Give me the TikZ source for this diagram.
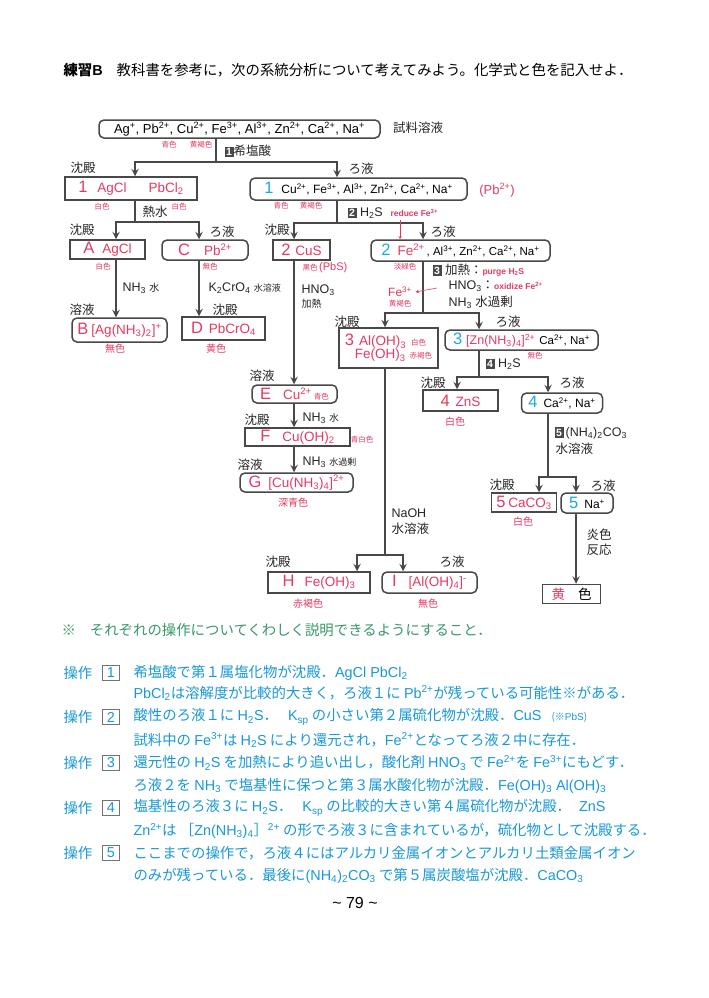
\documentclass[tikz,border=0pt]{standalone}
\usepackage{fontspec}
\setmainfont{Noto Sans CJK JP}
\newfontfamily\jp{Noto Sans CJK JP}
\newfontfamily\lat{Liberation Sans}
\usepackage{tikz}
\usetikzlibrary{arrows}

\definecolor{ans}{RGB}{228,58,98}
\definecolor{num}{RGB}{28,168,228}
\definecolor{opblue}{RGB}{24,152,216}
\definecolor{note}{RGB}{56,152,104}
\definecolor{ink}{RGB}{72,72,72}

\newcommand\lo[1]{\textsubscript{#1}}
\newcommand\hi[1]{\textsuperscript{#1}}
\newcommand\la[1]{{\lat #1}}
\newcommand\ja[1]{{\jp #1}}
\newcommand\opn[1]{{\setlength\fboxsep{1.6pt}\colorbox{ink}{\textcolor{white}{\lat\bfseries\fontsize{10.5}{10.5}\selectfont #1}}}}
\newcommand\opbox[1]{{\setlength\fboxsep{2pt}\setlength\fboxrule{0.9pt}\fcolorbox{black!55}{white}{\lat\,#1\,}}}
\newcommand\cw[1]{{\jp\fontsize{7.5}{8}\selectfont\textcolor{ans}{#1}}}
\newcommand\bign[2]{{\color{#1}\fontsize{16.5}{16.5}\selectfont #2}}
\newcommand\blk[1]{{\color{black}\fontsize{12}{12}\selectfont #1}}

\begin{document}
\begin{tikzpicture}[
    x = 1pt, y = -1pt, % one unit per pixel, y runs down
    > = stealth, % arrow head style
    flow/.style = {draw=ink, line width=2.2pt}, % flow lines
    ppt/.style = {draw=ink, line width=1.5pt, inner sep=0pt, text=ans,
                  font=\lat\fontsize{13.5}{14}\selectfont}, % precipitate boxes
    sol/.style = {ppt, rounded corners=5pt}, % solution boxes
    lbl/.style = {font=\jp\fontsize{12.5}{13}\selectfont, text=black!85}, % 沈殿 / ろ液
    col/.style = {font=\jp\fontsize{7.5}{8}\selectfont, text=ans}, % small colour words
    bcol/.style = {font=\jp\fontsize{10}{11}\selectfont, text=ans}, % colour words
    reag/.style = {anchor=west, font=\lat\fontsize{12.5}{13}\selectfont, text=black!85}, % reagents
    opline/.style = {anchor=west, font=\jp\fontsize{14.4}{15}\selectfont, text=opblue} % notes
]
\fill[white] (0,0) rectangle (709,998);
\useasboundingbox (0,0) rectangle (709,998);

\node[anchor=west, font=\jp\fontsize{14.4}{15}\selectfont] (title) at (60,70)
    {{\bfseries 練習\la{B}}\hspace{14pt}教科書を参考に，次の系統分析について考えてみよう。化学式と色を記入せよ．};

% split points
\coordinate (s1) at (216,162);
\coordinate (s2) at (135,222);
\coordinate (s3) at (337,223);
\coordinate (s4) at (423,313);
\coordinate (s5) at (479,377);
\coordinate (s6) at (548,477);
\coordinate (s7) at (385,555);
% arrow columns
\coordinate (xa) at (116,0);
\coordinate (xc) at (199,0);
\coordinate (xcu) at (294,0);
\coordinate (xzn) at (457,0);
\coordinate (xca) at (539,0);
\coordinate (xna) at (576,0);
\coordinate (xh) at (357,0);
\coordinate (xi) at (403,0);
\coordinate (xrd) at (400,0);

% boxes
\node[sol, text=black, font=\lat\fontsize{13}{13}\selectfont, minimum width=281pt, minimum height=18pt] (top) at (239.5,129)
    {Ag\hi{+}, Pb\hi{2+}, Cu\hi{2+}, Fe\hi{3+}, Al\hi{3+}, Zn\hi{2+}, Ca\hi{2+}, Na\hi{+}};
\node[ppt, minimum width=132pt, minimum height=23pt] (p1) at (131,188.5)
    {\bign{ans}{1}\hspace{10pt}AgCl\hspace{22pt}PbCl\lo{2}};
\node[sol, minimum width=217pt, minimum height=22pt] (f1) at (358.5,189)
    {\bign{num}{1}\hspace{8pt}\blk{Cu\hi{2+}, Fe\hi{3+}, Al\hi{3+}, Zn\hi{2+}, Ca\hi{2+}, Na\hi{+}}\hspace{4pt}};
\node[ppt, minimum width=75pt, minimum height=19pt] (A) at (107.5,249.5) {\bign{ans}{A}\hspace{8pt}AgCl};
\node[sol, minimum width=86pt, minimum height=20pt] (C) at (205,250) {\bign{ans}{C}\hspace{14pt}Pb\hi{2+}\hspace{16pt}};
\node[ppt, minimum width=57pt, minimum height=20pt] (cus) at (301.5,250) {\bign{ans}{2}\hspace{5pt}CuS};
\node[sol, minimum width=179pt, minimum height=21pt] (f2) at (460.5,250.5)
    {\bign{num}{2}\hspace{7pt}Fe\hi{2+}\hspace{2pt}{\color{black}\fontsize{11.5}{12}\selectfont, Al\hi{3+}, Zn\hi{2+}, Ca\hi{2+}, Na\hi{+}}};
\node[sol, minimum width=95pt, minimum height=24pt] (B) at (119.5,330) {\bign{ans}{B}\hspace{3pt}[Ag(NH\lo{3})\lo{2}]\hi{+}};
\node[ppt, minimum width=83pt, minimum height=23pt] (D) at (223.5,328.5) {\bign{ans}{D}\hspace{6pt}PbCrO\lo{4}};
\node[sol, minimum width=85pt, minimum height=18pt] (E) at (294.5,394) {\bign{ans}{E}\hspace{12pt}Cu\hi{2+}\,\cw{青色}\hspace{6pt}};
\node[ppt, minimum width=105pt, minimum height=18pt] (F) at (297.5,437) {\bign{ans}{F}\hspace{12pt}Cu(OH)\lo{2}\hspace{14pt}};
\node[sol, minimum width=113pt, minimum height=19pt] (G) at (296.5,482.5) {\bign{ans}{G}\hspace{7pt}[Cu(NH\lo{3})\lo{4}]\hi{2+}\hspace{4pt}};
\node[ppt, minimum width=99pt, minimum height=40pt, align=left] (p3) at (388.5,348)
    {\bign{ans}{3}\hspace{5pt}Al(OH)\lo{3}\hspace{5pt}\cw{白色}\\[-1pt]\hspace{10pt}Fe(OH)\lo{3}\hspace{4pt}\cw{赤褐色}};
\node[sol, minimum width=153pt, minimum height=20pt, font=\lat\fontsize{12.5}{13}\selectfont] (f3) at (521.5,340)
    {\bign{num}{3}\hspace{4pt}[Zn(NH\lo{3})\lo{4}]\hi{2+}\hspace{4pt}{\color{black}\fontsize{11.5}{12}\selectfont Ca\hi{2+}, Na\hi{+}}};
\node[ppt, minimum width=75pt, minimum height=21pt] (zns) at (460.5,400.5) {\bign{ans}{4}\hspace{6pt}ZnS\hspace{20pt}};
\node[sol, minimum width=81pt, minimum height=20pt] (f4) at (562,403) {\bign{num}{4}\hspace{6pt}\blk{Ca\hi{2+}, Na\hi{+}}};
\node[ppt, minimum width=65pt, minimum height=19pt] (ca) at (524,502.5) {\bign{ans}{5}\hspace{3pt}CaCO\lo{3}};
\node[sol, minimum width=52pt, minimum height=20pt] (na) at (587,503) {\bign{num}{5}\hspace{6pt}\blk{Na\hi{+}}\hspace{6pt}};
\node[ppt, minimum width=58pt, minimum height=19pt, font=\jp\fontsize{13.5}{14}\selectfont] (yel) at (571.5,594)
    {黄\hspace{13pt}\textcolor{black}{色}};
\node[ppt, minimum width=102pt, minimum height=21pt] (H) at (319,582.5) {\bign{ans}{H}\hspace{10pt}Fe(OH)\lo{3}\hspace{22pt}};
\node[sol, minimum width=95pt, minimum height=21pt] (I) at (429.5,582.5) {\bign{ans}{I}\hspace{12pt}[Al(OH)\lo{4}]\hi{-}};

% labels: 沈殿 / ろ液 / 溶液
\node[lbl] at (83,168) {沈殿};
\node[lbl] at (361,169) {ろ液};
\node[lbl] at (82,230) {沈殿};
\node[lbl] at (222,232) {ろ液};
\node[lbl] at (277,230) {沈殿};
\node[lbl] at (443,232) {ろ液};
\node[lbl] at (82,310) {溶液};
\node[lbl] at (225,310) {沈殿};
\node[lbl] at (347,322) {沈殿};
\node[lbl] at (508,322) {ろ液};
\node[lbl] at (262,376) {溶液};
\node[lbl] at (433,383) {沈殿};
\node[lbl] at (572,383) {ろ液};
\node[lbl] at (257,420) {沈殿};
\node[lbl] at (250,465) {溶液};
\node[lbl] at (502,485) {沈殿};
\node[lbl] at (603,486) {ろ液};
\node[lbl] at (278,562) {沈殿};
\node[lbl] at (452,562) {ろ液};
\node[lbl] at (418,128) {試料溶液};

% colours
\node[col] at (169,145) {青色};
\node[col] at (201,145) {黄褐色};
\node[col] at (102,207) {白色};
\node[col] at (179,207) {白色};
\node[col] at (281,206) {青色};
\node[col] at (311,206) {黄褐色};
\node[col] at (103,267) {白色};
\node[col] at (210,267) {無色};
\node[anchor=west, text=ans] at (299,268) {\cw{黒色}\,{\lat\fontsize{11}{12}\selectfont (PbS)}};
\node[col] at (405,267) {淡緑色};
\node[col] at (400,304) {黄褐色};
\node[col] at (535,356) {無色};
\node[col] at (362,440) {青白色};
\node[bcol] at (115,349) {無色};
\node[bcol] at (216,349) {黄色};
\node[bcol] at (293,503) {深青色};
\node[bcol] at (455,422) {白色};
\node[bcol] at (523,522) {白色};
\node[bcol] at (308,604) {赤褐色};
\node[bcol] at (428,604) {無色};
\node[text=ans, font=\lat\fontsize{13}{14}\selectfont] at (497,190) {(Pb\hi{2+})};

% reagents
\node[reag] at (221,151) {\opn{1}\ja{希塩酸}};
\node[lbl, anchor=west] at (139,212) {熱水};
\node[reag] at (344,213) {\opn{2}\ H\lo{2}S};
\node[anchor=west, text=ans, font=\lat\bfseries\fontsize{8.5}{9}\selectfont] (rdc) at (387,213) {reduce Fe\hi{3+}};
\node[reag] at (119,288) {NH\lo{3} {\jp\fontsize{10}{10}\selectfont 水}};
\node[reag] at (205,288) {K\lo{2}CrO\lo{4} {\jp\fontsize{9}{10}\selectfont 水溶液}};
\node[reag] at (298,290) {HNO\lo{3}};
\node[reag, font=\jp\fontsize{10}{11}\selectfont] at (298,304) {加熱};
\node[reag] at (429,270) {\opn{3}\ \ja{加熱：}{\color{ans}\bfseries\fontsize{8.5}{9}\selectfont purge H\lo{2}S}};
\node[reag] at (445,286) {HNO\lo{3}\ja{：}{\color{ans}\bfseries\fontsize{8.5}{9}\selectfont oxidize Fe\hi{2+}}};
\node[reag] at (445,302) {NH\lo{3} \ja{水過剰}};
\node[text=ans, font=\lat\fontsize{12}{13}\selectfont] (fe3) at (400,292) {Fe\hi{3+}};
\node[reag] at (482,364) {\opn{4}\ H\lo{2}S};
\node[reag] at (299,418) {NH\lo{3} {\jp\fontsize{9.5}{10}\selectfont 水}};
\node[reag] at (299,462) {NH\lo{3} {\jp\fontsize{9}{10}\selectfont 水過剰}};
\node[reag] at (551,433) {\opn{5}\,(NH\lo{4})\lo{2}CO\lo{3}};
\node[reag, font=\jp\fontsize{12.5}{13}\selectfont] at (552,449) {水溶液};
\node[reag] at (388,513) {NaOH};
\node[reag, font=\jp\fontsize{12.5}{13}\selectfont] at (388,529) {水溶液};
\node[reag, font=\jp\fontsize{12.5}{13}\selectfont] at (583,535) {炎色};
\node[reag, font=\jp\fontsize{12.5}{13}\selectfont] at (583,550) {反応};

% connectors
\draw[flow] (top.south -| s1) -- (s1);
\draw[flow,->] (s1) -| (p1.north -| s2);
\draw[flow,->] (s1) -| (f1.north -| s3);
\draw[flow] (p1.south -| s2) -- (s2);
\draw[flow,->] (s2) -| (A.north -| xa);
\draw[flow,->] (s2) -| (C.north -| xc);
\draw[flow] (f1.south -| s3) -- (s3);
\draw[flow,->] (s3) -| (cus.north -| xcu);
\draw[flow,->] (s3) -| (f2.north -| s4);
\draw[flow,->] (A.south -| xa) -- (B.north -| xa);
\draw[flow,->] (C.south -| xc) -- (D.north -| xc);
\draw[flow,->] (cus.south -| xcu) -- (E.north -| xcu);
\draw[flow,->] (E.south -| xcu) -- (F.north -| xcu);
\draw[flow,->] (F.south -| xcu) -- (G.north -| xcu);
\draw[flow] (f2.south -| s4) -- (s4);
\draw[flow,->] (s4) -| (p3.north -| s7);
\draw[flow,->] (s4) -| (f3.north -| s5);
\draw[flow] (f3.south -| s5) -- (s5);
\draw[flow,->] (s5) -| (zns.north -| xzn);
\draw[flow,->] (s5) -| (f4.north -| s6);
\draw[flow] (f4.south -| s6) -- (s6);
\draw[flow,->] (s6) -| (ca.north -| xca);
\draw[flow,->] (s6) -| (na.north -| xna);
\draw[flow,->] (na.south -| xna) -- (yel.north -| xna);
\draw[flow] (p3.south -| s7) -- (s7);
\draw[flow,->] (s7) -| (H.north -| xh);
\draw[flow,->] (s7) -| (I.north -| xi);
\draw[ans, line width=0.5pt, ->] (rdc.south -| xrd) -- (f2.north -| xrd);
\coordinate (fesrc) at (437,288);
\draw[ans, line width=0.6pt, ->] (fesrc) -- (fe3.east);

% notes
\node[opline, text=note] (nt) at (58,630) {※\hspace{14pt}それぞれの操作についてくわしく説明できるようにすること．};
\node[opline] (k1) at (60,673) {操作};
\node[opline] at (98,673) {\opbox{1}};
\node[opline] (t1) at (130,673) {希塩酸で第１属塩化物が沈殿．\la{AgCl PbCl\lo{2}}};
\node[opline] (t1b) at (130,693) {\la{PbCl\lo{2}}は溶解度が比較的大きく，ろ液１に \la{Pb\hi{2+}}が残っている可能性※がある．};
\node[opline] (k2) at (60,717) {操作};
\node[opline] at (98,717) {\opbox{2}};
\node[opline] (t2) at (130,717) {酸性のろ液１に \la{H\lo{2}S}．\hspace{10pt}\la{K\lo{sp}} の小さい第２属硫化物が沈殿．\la{CuS}\hspace{10pt}{\fontsize{10}{10}\selectfont (※\la{PbS})}};
\node[opline] (t2b) at (130,740) {試料中の \la{Fe\hi{3+}}は \la{H\lo{2}S} により還元され，\la{Fe\hi{2+}}となってろ液２中に存在．};
\node[opline] (k3) at (60,763) {操作};
\node[opline] at (98,763) {\opbox{3}};
\node[opline] (t3) at (130,763) {還元性の \la{H\lo{2}S} を加熱により追い出し，酸化剤 \la{HNO\lo{3}} で \la{Fe\hi{2+}}を \la{Fe\hi{3+}}にもどす．};
\node[opline] (t3b) at (130,786) {ろ液２を \la{NH\lo{3}} で塩基性に保つと第３属水酸化物が沈殿．\la{Fe(OH)\lo{3} Al(OH)\lo{3}}};
\node[opline] (k4) at (60,808) {操作};
\node[opline] at (98,808) {\opbox{4}};
\node[opline] (t4) at (130,808) {塩基性のろ液３に \la{H\lo{2}S}．\hspace{10pt}\la{K\lo{sp}} の比較的大きい第４属硫化物が沈殿．\hspace{8pt}\la{ZnS}};
\node[opline] (t4b) at (130,831) {\la{Zn\hi{2+}}は ［\la{Zn(NH\lo{3})\lo{4}}］\la{\hi{2+}} の形でろ液３に含まれているが，硫化物として沈殿する．};
\node[opline] (k5) at (60,853) {操作};
\node[opline] at (98,853) {\opbox{5}};
\node[opline] (t5) at (130,853) {ここまでの操作で，ろ液４にはアルカリ金属イオンとアルカリ土類金属イオン};
\node[opline] (t5b) at (130,876) {のみが残っている．最後に\la{(NH\lo{4})\lo{2}CO\lo{3}} で第５属炭酸塩が沈殿．\la{CaCO\lo{3}}};
\node[font=\lat\fontsize{16}{16}\selectfont] (pg) at (355,903) {\textasciitilde\ 79 \textasciitilde};
\end{tikzpicture}
\end{document}
